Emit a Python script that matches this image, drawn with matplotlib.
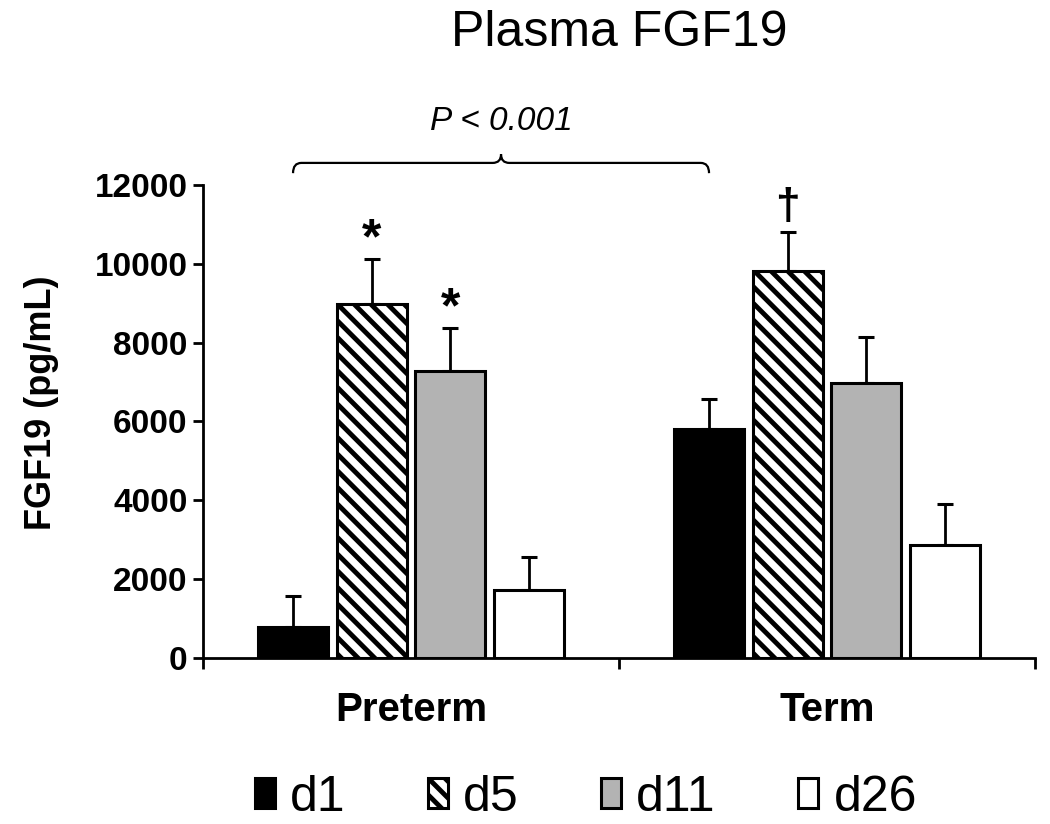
import numpy as np
import matplotlib
matplotlib.use("Agg")
import matplotlib.pyplot as plt
from matplotlib.path import Path
from matplotlib.patches import PathPatch

plt.rcParams['font.family'] = ['Liberation Sans', 'DejaVu Sans']
plt.rcParams['hatch.linewidth'] = 3.5

# data
groups = ["Preterm", "Term"]
days = ["d1", "d5", "d11", "d26"]
means = {
    "d1": [790, 5810],
    "d5": [8980, 9820],
    "d11": [7280, 6980],
    "d26": [1725, 2870],
}
sem = {
    "d1": [785, 760],
    "d5": [1140, 990],
    "d11": [1090, 1170],
    "d26": [840, 1040],
}
faces = {"d1": "black", "d5": "white", "d11": "#b3b3b3", "d26": "white"}
hatches = {"d1": None, "d5": "\\\\", "d11": None, "d26": None}
marks = [("d5", 0, "*"), ("d11", 0, "*"), ("d5", 1, "\u2020")]

fig = plt.figure(figsize=(10.5, 8.24), dpi=100)
ax = fig.add_axes([0.1933, 0.2015, 0.7924, 0.574])

x = np.arange(len(groups))
step = 0.189
width = 0.168
pos = {}
for i, d in enumerate(days):
    xi = x + (i - 1.5) * step
    pos[d] = xi
    ax.bar(xi, means[d], width, color=faces[d], edgecolor="black",
           linewidth=2.2, hatch=hatches[d], label=d, zorder=2)
    ax.errorbar(xi, means[d], yerr=[np.zeros(len(groups)), sem[d]],
                fmt="none", ecolor="black", elinewidth=2, capsize=6,
                capthick=2.2, zorder=1)

for d, g, m in marks:
    top = means[d][g] + sem[d][g]
    if m == "*":
        ax.annotate(m, (pos[d][g], top), xytext=(0, -3), textcoords="offset points",
                    ha="center", va="bottom", fontsize=36, fontweight="bold")
    else:
        ax.annotate(m, (pos[d][g], top), xytext=(0, 3), textcoords="offset points",
                    ha="center", va="bottom", fontsize=32, fontweight="bold")

ax.set_xlim(-0.5, 1.5)
ax.set_ylim(0, 12000)
ax.set_yticks(np.arange(0, 12001, 2000))
ax.tick_params(axis="y", labelsize=24, width=2, length=7, pad=4)
for t in ax.get_yticklabels():
    t.set_fontweight("bold")

ax.set_xticks(x)
ax.set_xticklabels(groups, fontsize=29, fontweight="bold")
ax.tick_params(axis="x", which="major", length=0, pad=24)
ax.set_xticks([-0.5, 0.5, 1.5], minor=True)
ax.tick_params(axis="x", which="minor", length=8, width=2, direction="out")

for s in ["top", "right"]:
    ax.spines[s].set_visible(False)
for s in ["left", "bottom"]:
    ax.spines[s].set_linewidth(2)

# brace with p-value
x0 = pos["d1"][0]
x1 = pos["d1"][1]
xm = (x0 + x1) / 2
yb, yh, yn = 12300, 12560, 12780
dx = 0.02
verts = [(x0, yb), (x0, yh), (x0 + dx, yh), (xm - dx, yh), (xm, yh), (xm, yn),
         (xm, yh), (xm + dx, yh), (x1 - dx, yh), (x1, yh), (x1, yb)]
codes = [Path.MOVETO, Path.CURVE3, Path.CURVE3, Path.LINETO, Path.CURVE3, Path.CURVE3,
         Path.CURVE3, Path.CURVE3, Path.LINETO, Path.CURVE3, Path.CURVE3]
ax.add_patch(PathPatch(Path(verts, codes), fill=False, lw=1.6, clip_on=False))
ax.text(xm, 13600, "P < 0.001", ha="center", va="center", fontsize=24,
        style="italic", clip_on=False)

fig.text(0.59, 0.96, "Plasma FGF19", ha="center", va="center", fontsize=36)
fig.text(0.04, 0.511, "FGF19 (pg/mL)", rotation=90, ha="center", va="center",
         fontsize=26, fontweight="bold")

fig.legend(loc="center", bbox_to_anchor=(0.558, 0.032), ncol=4, frameon=False,
           fontsize=36, handlelength=0.4, handleheight=0.55, handletextpad=0.3,
           columnspacing=1.65, borderpad=0)

fig.savefig("out.png", dpi=100)
